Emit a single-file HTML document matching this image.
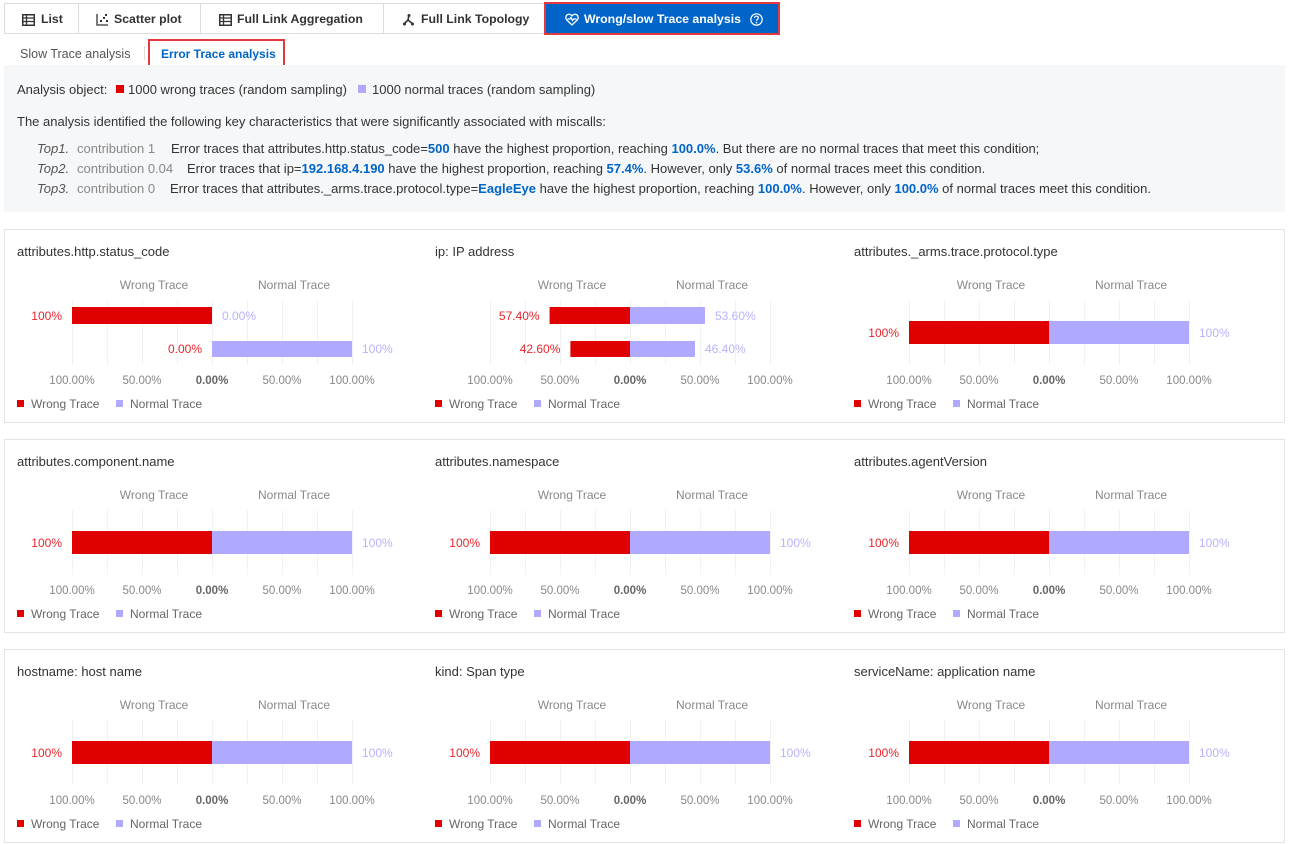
<!DOCTYPE html>
<html>
<head>
<meta charset="utf-8">
<style>
  html,body{margin:0;padding:0;background:#fff;}
  body{width:1290px;height:845px;position:relative;overflow:hidden;font-family:"Liberation Sans",Arial,sans-serif;color:#333;}
  .abs{position:absolute;white-space:nowrap;}
  .tab{position:absolute;top:3px;height:31px;border:1px solid #dcdcdc;box-sizing:border-box;background:#fff;font-size:12.3px;font-weight:bold;color:#333;line-height:31px;}
  .tab span.t{position:absolute;top:0;}
  .b{color:#0064c8;font-weight:bold;}
  .g{color:#888;}
  .txt{font-size:13px;line-height:16px;}
</style>
</head>
<body>

<!-- Tabs -->
<div class="tab" style="left:4px;width:75px;">
  <svg class="abs" style="left:17px;top:10px" width="13" height="12" viewBox="0 0 13 12"><rect x="0.75" y="0.75" width="11.5" height="10.5" fill="none" stroke="#333" stroke-width="1.5"/><path d="M1 4H12M1 7.5H12M4.5 1V11" stroke="#333" stroke-width="1.3"/></svg>
  <span class="t" style="left:36px">List</span>
</div>
<div class="tab" style="left:78px;width:123px;">
  <svg class="abs" style="left:17px;top:10px" width="13" height="12" viewBox="0 0 13 12"><path d="M1 0V11H12" fill="none" stroke="#333" stroke-width="1.3"/><rect x="4" y="6" width="2" height="2" fill="#333"/><rect x="7" y="3" width="2" height="2" fill="#333"/><rect x="10" y="6" width="2" height="2" fill="#333"/><rect x="9" y="0" width="2" height="2" fill="#333"/></svg>
  <span class="t" style="left:35px">Scatter plot</span>
</div>
<div class="tab" style="left:200px;width:184px;">
  <svg class="abs" style="left:18px;top:10px" width="13" height="12" viewBox="0 0 13 12"><rect x="0.75" y="0.75" width="11.5" height="10.5" fill="none" stroke="#333" stroke-width="1.5"/><path d="M1 4H12M1 7.5H12M4.5 1V11" stroke="#333" stroke-width="1.3"/></svg>
  <span class="t" style="left:36px">Full Link Aggregation</span>
</div>
<div class="tab" style="left:383px;width:162px;">
  <svg class="abs" style="left:19px;top:10px" width="11" height="12" viewBox="0 0 11 12"><path d="M6 1L5 6L1 10M5 6L10 10" fill="none" stroke="#333" stroke-width="1.6"/><circle cx="6" cy="1.5" r="1.5" fill="#333"/><circle cx="1.5" cy="10" r="1.5" fill="#333"/><circle cx="9.5" cy="10" r="1.5" fill="#333"/></svg>
  <span class="t" style="left:37px">Full Link Topology</span>
</div>
<div class="abs" style="left:544px;top:2px;width:236px;height:33px;border:2px solid #e3393c;box-sizing:border-box;background:#0064c8;color:#fff;font-size:12.3px;font-weight:bold;line-height:31px;">
  <svg class="abs" style="left:19px;top:9px" width="14" height="13" viewBox="0 0 14 13"><path d="M7 12L1.8 7C0.3 5.5 0.5 3 2.2 1.8C3.9 0.7 5.8 1.3 7 2.8C8.2 1.3 10.1 0.7 11.8 1.8C13.5 3 13.7 5.5 12.2 7Z" fill="none" stroke="#fff" stroke-width="1.3"/><path d="M2.5 6H5L6 4.5L7.5 7.5L8.5 6H11.5" fill="none" stroke="#fff" stroke-width="1.2"/></svg>
  <span class="abs" style="left:38px;top:0">Wrong/slow Trace analysis</span>
  <svg class="abs" style="left:204px;top:9px" width="13" height="13" viewBox="0 0 13 13"><circle cx="6.5" cy="6.5" r="5.7" fill="none" stroke="#fff" stroke-width="1.2"/><path d="M4.6 5C4.6 3.9 5.4 3.2 6.5 3.2C7.6 3.2 8.4 3.9 8.4 4.9C8.4 6.2 6.5 6.3 6.5 7.8" fill="none" stroke="#fff" stroke-width="1.2"/><circle cx="6.5" cy="9.6" r="0.8" fill="#fff"/></svg>
</div>

<!-- Sub tabs -->
<div class="abs" style="left:20px;top:46px;font-size:12.5px;color:#555;line-height:16px;">Slow Trace analysis</div>
<div class="abs" style="left:144px;top:46px;width:1px;height:14px;background:#ddd;"></div>
<div class="abs" style="left:148px;top:39px;width:137px;height:29px;border:2px solid #e3393c;box-sizing:border-box;"></div>
<div class="abs" style="left:161px;top:46px;font-size:12px;font-weight:bold;color:#0064c8;line-height:16px;">Error Trace analysis</div>

<!-- Gray summary box -->
<div class="abs" style="left:4px;top:65px;width:1281px;height:147px;background:#f6f7f9;"></div>

<div class="abs txt" style="left:17px;top:82px;">Analysis object:</div>
<div class="abs" style="left:116px;top:85px;width:8px;height:8px;background:#e00000;"></div>
<div class="abs txt" style="left:128px;top:82px;">1000 wrong traces (random sampling)</div>
<div class="abs" style="left:358px;top:85px;width:8px;height:8px;background:#afaaff;"></div>
<div class="abs txt" style="left:372px;top:82px;">1000 normal traces (random sampling)</div>

<div class="abs txt" style="left:17px;top:114px;">The analysis identified the following key characteristics that were significantly associated with miscalls:</div>

<div class="abs txt g" style="left:37px;top:141px;font-style:italic;color:#555;">Top1.</div>
<div class="abs txt g" style="left:77px;top:141px;">contribution 1</div>
<div class="abs txt" style="left:171px;top:141px;">Error traces that attributes.http.status_code=<span class="b">500</span> have the highest proportion, reaching <span class="b">100.0%</span>. But there are no normal traces that meet this condition;</div>

<div class="abs txt g" style="left:37px;top:161px;font-style:italic;color:#555;">Top2.</div>
<div class="abs txt g" style="left:77px;top:161px;">contribution 0.04</div>
<div class="abs txt" style="left:187px;top:161px;">Error traces that ip=<span class="b">192.168.4.190</span> have the highest proportion, reaching <span class="b">57.4%</span>. However, only <span class="b">53.6%</span> of normal traces meet this condition.</div>

<div class="abs txt g" style="left:37px;top:181px;font-style:italic;color:#555;">Top3.</div>
<div class="abs txt g" style="left:77px;top:181px;">contribution 0</div>
<div class="abs txt" style="left:170px;top:181px;">Error traces that attributes._arms.trace.protocol.type=<span class="b">EagleEye</span> have the highest proportion, reaching <span class="b">100.0%</span>. However, only <span class="b">100.0%</span> of normal traces meet this condition.</div>

<!-- Panels -->
<div class="abs" style="left:4px;top:229px;width:1281px;height:194px;border:1px solid #e3e3e3;box-sizing:border-box;"></div>
<div class="abs" style="left:4px;top:439px;width:1281px;height:194px;border:1px solid #e3e3e3;box-sizing:border-box;"></div>
<div class="abs" style="left:4px;top:649px;width:1281px;height:194px;border:1px solid #e3e3e3;box-sizing:border-box;"></div>

<svg class="abs" style="left:0;top:0" width="1290" height="845" viewBox="0 0 1290 845" font-family="Liberation Sans, Arial, sans-serif">
  <defs>
    <g id="grid">
      <path d="M72.5 300V365M107.5 300V365M142.5 300V365M177.5 300V365M212.5 300V365M247.5 300V365M282.5 300V365M317.5 300V365M352.5 300V365" stroke="#f2f2f2" stroke-width="1"/>
      <text x="154" y="289" font-size="12" fill="#888" text-anchor="middle">Wrong Trace</text>
      <text x="294" y="289" font-size="12" fill="#888" text-anchor="middle">Normal Trace</text>
      <g font-size="11.5" fill="#888" text-anchor="middle">
        <text x="72" y="384">100.00%</text>
        <text x="142" y="384">50.00%</text>
        <text x="212" y="384" font-weight="bold" fill="#666">0.00%</text>
        <text x="282" y="384">50.00%</text>
        <text x="352" y="384">100.00%</text>
      </g>
      <rect x="17" y="400" width="7" height="7" fill="#e00000"/>
      <text x="31" y="408" font-size="12" fill="#666">Wrong Trace</text>
      <rect x="116" y="400" width="7" height="7" fill="#afaaff"/>
      <text x="130" y="408" font-size="12" fill="#666">Normal Trace</text>
    </g>
    <g id="single">
      <rect x="72" y="321" width="140" height="23" fill="#e00000"/>
      <rect x="212" y="321" width="140" height="23" fill="#afaaff"/>
      <text x="62" y="337" font-size="12" fill="#e8262c" text-anchor="end">100%</text>
      <text x="362" y="337" font-size="12" fill="#b7b2ff">100%</text>
    </g>
  </defs>

  <!-- Row 1 -->
  <g>
    <use href="#grid"/>
    <text x="17" y="256" font-size="13" fill="#333">attributes.http.status_code</text>
    <rect x="72" y="307" width="140" height="17" fill="#e00000"/>
    <text x="62" y="320" font-size="12" fill="#e8262c" text-anchor="end">100%</text>
    <text x="222" y="320" font-size="12" fill="#b7b2ff">0.00%</text>
    <rect x="212" y="341" width="140" height="16" fill="#afaaff"/>
    <text x="202" y="353" font-size="12" fill="#e8262c" text-anchor="end">0.00%</text>
    <text x="362" y="353" font-size="12" fill="#b7b2ff">100%</text>
  </g>
  <g transform="translate(418,0)">
    <use href="#grid"/>
    <text x="17" y="256" font-size="13" fill="#333">ip: IP address</text>
    <rect x="131.6" y="307" width="80.4" height="17" fill="#e00000"/>
    <rect x="212" y="307" width="75" height="17" fill="#afaaff"/>
    <text x="121.6" y="320" font-size="12" fill="#e8262c" text-anchor="end">57.40%</text>
    <text x="297" y="320" font-size="12" fill="#b7b2ff">53.60%</text>
    <rect x="152.4" y="341" width="59.6" height="16" fill="#e00000"/>
    <rect x="212" y="341" width="65" height="16" fill="#afaaff"/>
    <text x="142.4" y="353" font-size="12" fill="#e8262c" text-anchor="end">42.60%</text>
    <text x="287" y="353" font-size="12" fill="#b7b2ff">46.40%</text>
  </g>
  <g transform="translate(837,0)">
    <use href="#grid"/>
    <use href="#single"/>
    <text x="17" y="256" font-size="13" fill="#333">attributes._arms.trace.protocol.type</text>
  </g>

  <!-- Row 2 -->
  <g transform="translate(0,210)">
    <use href="#grid"/><use href="#single"/>
    <text x="17" y="256" font-size="13" fill="#333">attributes.component.name</text>
  </g>
  <g transform="translate(418,210)">
    <use href="#grid"/><use href="#single"/>
    <text x="17" y="256" font-size="13" fill="#333">attributes.namespace</text>
  </g>
  <g transform="translate(837,210)">
    <use href="#grid"/><use href="#single"/>
    <text x="17" y="256" font-size="13" fill="#333">attributes.agentVersion</text>
  </g>

  <!-- Row 3 -->
  <g transform="translate(0,420)">
    <use href="#grid"/><use href="#single"/>
    <text x="17" y="256" font-size="13" fill="#333">hostname: host name</text>
  </g>
  <g transform="translate(418,420)">
    <use href="#grid"/><use href="#single"/>
    <text x="17" y="256" font-size="13" fill="#333">kind: Span type</text>
  </g>
  <g transform="translate(837,420)">
    <use href="#grid"/><use href="#single"/>
    <text x="17" y="256" font-size="13" fill="#333">serviceName: application name</text>
  </g>
</svg>

</body>
</html>
